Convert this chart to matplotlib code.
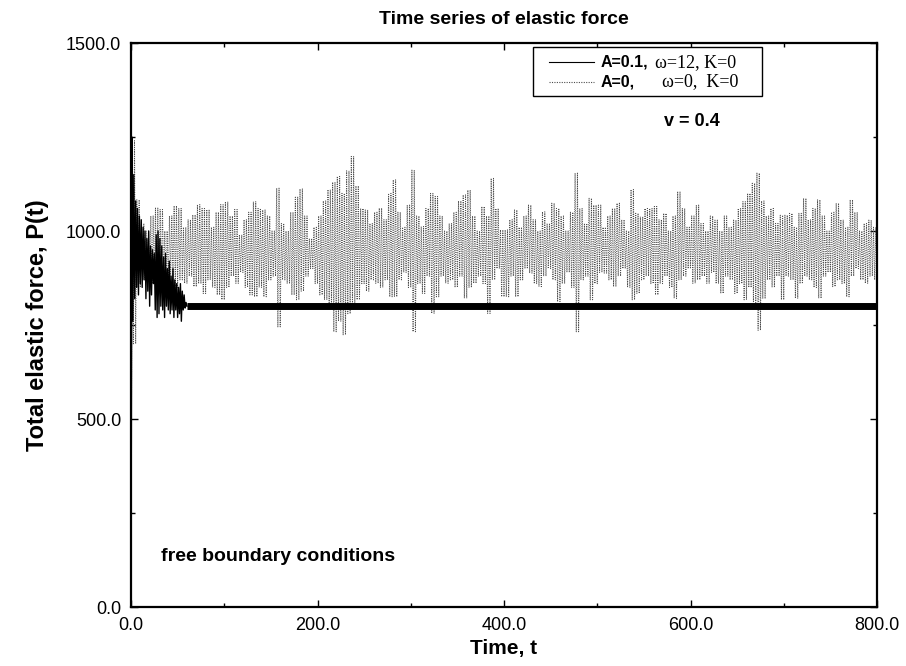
#!/usr/bin/env python3
# -*- coding: utf-8 -*-
"""
Time series of elastic force, free boundary conditions
"""
import numpy as np
import matplotlib
matplotlib.use("Agg")
import matplotlib.pyplot as plt
from matplotlib.lines import Line2D
from matplotlib.patches import Rectangle
from matplotlib.ticker import MultipleLocator, FormatStrFormatter

#-----------------------data--------------------------------------------------#
# sampling grid of the dotted run (every 5 time units)
T_STEP = 5
T_END = 800
OSC_PER_STEP = 2   # fast oscillation drawn this many times per step

# A=0, w=0: upper and lower envelope of the fast oscillation
grey_upper = [
    1240, 1083, 1020, 1000, 1040, 1061, 1057, 1000, 1040, 1067,
    1060, 1010, 1030, 1043, 1070, 1060, 1057, 1010, 1050, 1070,
    1078, 1040, 1057, 990, 1030, 1050, 1078, 1060, 1056, 1040,
    1000, 1114, 1020, 1000, 1050, 1090, 1112, 1040, 980, 1010,
    1040, 1080, 1110, 1130, 1145, 1100, 1160, 1198, 1120, 1060,
    1056, 1020, 1050, 1061, 1030, 1100, 1136, 1050, 1010, 1069,
    1162, 1040, 1012, 1060, 1100, 1092, 1040, 1000, 1020, 1050,
    1080, 1096, 1109, 1040, 1000, 1065, 1040, 1140, 1060, 1003,
    1003, 1030, 1056, 1010, 1040, 1069, 1030, 1000, 1051, 1020,
    1074, 1060, 1040, 1000, 1050, 1154, 1060, 1020, 1087, 1069,
    1069, 1010, 1040, 1060, 1074, 1030, 1000, 1110, 1047, 1038,
    1060, 1060, 1065, 1030, 1047, 1000, 1040, 1105, 1060, 1010,
    1040, 1069, 1020, 1000, 1040, 1029, 1000, 1040, 1010, 1029,
    1060, 1078, 1100, 1127, 1154, 1080, 1040, 1060, 1020, 1042,
    1042, 1047, 1010, 1047, 1087, 1030, 1060, 1083, 1040, 1000,
    1050, 1074, 1030, 1010, 1083, 1050, 1000, 1020, 1029, 1010,
]
grey_lower = [
    700, 850, 870, 880, 860, 850, 870, 860, 880, 850,
    870, 861, 880, 852, 860, 834, 870, 850, 830, 817,
    850, 880, 861, 890, 850, 830, 825, 850, 825, 870,
    880, 745, 870, 860, 830, 817, 840, 880, 900, 860,
    830, 817, 800, 732, 760, 724, 780, 800, 817, 860,
    840, 870, 861, 850, 870, 825, 825, 870, 890, 850,
    732, 860, 834, 880, 781, 825, 880, 861, 870, 850,
    880, 821, 850, 861, 880, 860, 781, 870, 900, 825,
    825, 880, 825, 870, 900, 888, 860, 852, 880, 900,
    870, 812, 860, 890, 850, 732, 870, 880, 817, 860,
    890, 888, 870, 852, 880, 900, 850, 817, 834, 870,
    880, 860, 830, 860, 880, 850, 821, 870, 880, 900,
    861, 870, 880, 861, 890, 860, 834, 880, 870, 834,
    860, 817, 850, 810, 736, 820, 870, 850, 880, 817,
    880, 870, 821, 860, 880, 870, 850, 821, 880, 890,
    852, 870, 860, 825, 880, 900, 870, 861, 880, 870,
]

# A=0.1, w=12: transient, one value per time unit from t=0
black_start = [
    0, 1250, 760, 1150, 820, 1080, 850, 1060, 830, 1040,
    860, 1030, 850, 1010, 870, 1000, 820, 980, 840, 1000,
    800, 960, 830, 950, 860, 940, 790, 990, 770, 1000,
    780, 980, 800, 960, 790, 930, 770, 940, 800, 900,
    790, 920, 780, 880, 790, 900, 770, 870, 790, 860,
    770, 850, 780, 860, 760, 840, 790, 830, 795, 810,
    800,
]
# after the transient it sits on a steady level
black_settle_t = [60, 800]
black_settle_v = [800, 800]

LABEL_A = ["A=0.1,", "A=0,"]
LABEL_REST = ["\u03c9=12, K=0", "\u03c9=0,  K=0"]

#-----------------------build the dotted run----------------------------------#
# each step holds OSC_PER_STEP swings between the read upper/lower values
n_half = 2 * OSC_PER_STEP
t_env = np.arange(0, T_END, T_STEP)
sub = np.arange(1, n_half + 1) * T_STEP / n_half
grey_t = np.concatenate([[0], (t_env[:, None] + sub[None, :]).ravel()])
pairs = np.tile(np.column_stack([grey_upper, grey_lower]), OSC_PER_STEP)
grey_v = np.concatenate([[0], pairs.ravel()])

black_t = np.arange(len(black_start))

#-----------------------plot--------------------------------------------------#
plt.rcParams['font.family'] = ['Liberation Sans', 'DejaVu Sans']

fig = plt.figure(figsize=(9.06, 6.66), dpi=100)
ax = fig.add_axes([131 / 906, 59 / 666, 746 / 906, 564 / 666])

ax.plot(grey_t, grey_v, color='0.3', ls=(0, (1, 1.3)), lw=0.7)
ax.plot(black_t, black_start, color='black', lw=1.0)
ax.plot(black_settle_t, black_settle_v, color='black', lw=5.0,
        solid_capstyle='butt')

ax.set_xlim(0, 800)
ax.set_ylim(0, 1500)
ax.xaxis.set_major_locator(MultipleLocator(200))
ax.xaxis.set_minor_locator(MultipleLocator(100))
ax.yaxis.set_major_locator(MultipleLocator(500))
ax.yaxis.set_minor_locator(MultipleLocator(250))
ax.xaxis.set_major_formatter(FormatStrFormatter('%.1f'))
ax.yaxis.set_major_formatter(FormatStrFormatter('%.1f'))
ax.tick_params(which='both', direction='in', top=True, right=True,
               labelsize=13, width=1.0)
ax.tick_params(which='major', length=5, pad=7)
ax.tick_params(which='minor', length=3)
for s in ax.spines.values():
    s.set_linewidth(1.6)

ax.set_title('Time series of elastic force', fontsize=14, fontweight='bold',
             pad=14)
ax.set_xlabel('Time, t', fontsize=15, fontweight='bold', labelpad=4)
ax.set_ylabel('Total elastic force, P(t)', fontsize=17, fontweight='bold',
              labelpad=12)

#-----------------------legend box drawn by hand------------------------------#
ax.add_patch(Rectangle((0.539, 0.906), 0.307, 0.087, transform=ax.transAxes,
                       fill=True, facecolor='white', edgecolor='black',
                       lw=1.0, zorder=5))
rows_y = [0.966, 0.931]
styles = [dict(color='black', lw=0.8),
          dict(color='0.3', lw=0.8, ls=(0, (1, 1.2)))]
rest_x = [0.703, 0.712]
for i in range(2):
    ax.add_line(Line2D([0.560, 0.620], [rows_y[i], rows_y[i]],
                       transform=ax.transAxes, zorder=6, **styles[i]))
    ax.text(0.629, rows_y[i], LABEL_A[i], transform=ax.transAxes,
            fontsize=11.5, fontweight='bold', va='center', zorder=6)
    ax.text(rest_x[i], rows_y[i], LABEL_REST[i], transform=ax.transAxes,
            fontsize=13, family=['Liberation Serif', 'DejaVu Serif'],
            va='center', zorder=6)

ax.text(0.714, 0.861, 'v = 0.4', transform=ax.transAxes, fontsize=13,
        fontweight='bold', va='center')
ax.text(0.04, 0.089, 'free boundary conditions', transform=ax.transAxes,
        fontsize=14, fontweight='bold', va='center')

plt.savefig('out.png', dpi=100)
